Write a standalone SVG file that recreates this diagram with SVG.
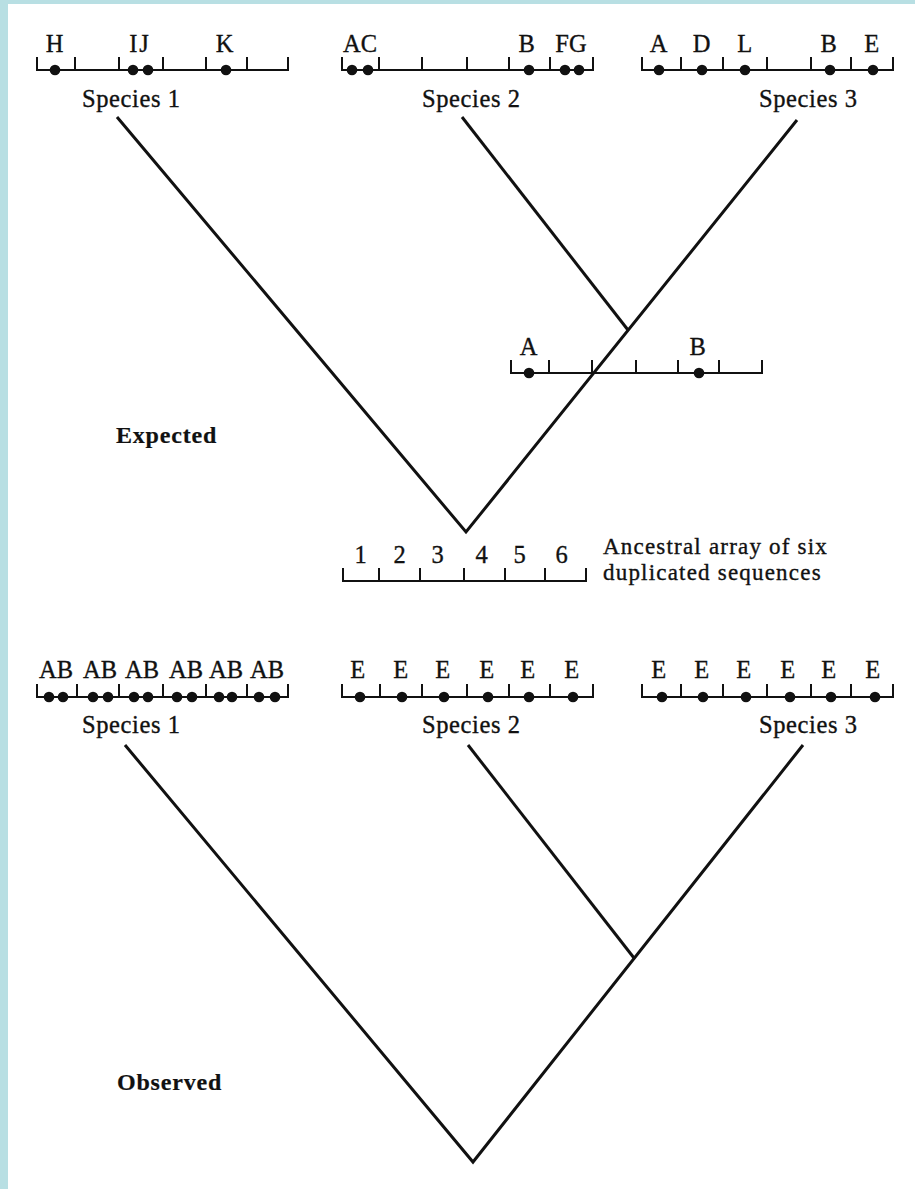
<svg xmlns="http://www.w3.org/2000/svg" width="915" height="1189" viewBox="0 0 915 1189">
<style>
.t{font-family:"Liberation Serif","Times New Roman",serif;font-size:24.5px;fill:#111;stroke:#111;stroke-width:0.35px;letter-spacing:0.6px}
.m{text-anchor:middle}
.b{font-weight:bold;font-size:24px;letter-spacing:0.8px;stroke-width:0.2px}
.anc{font-size:23px;letter-spacing:1.2px}
.arr{fill:none;stroke:#111;stroke-width:2}
.tree{fill:none;stroke:#111;stroke-width:3;stroke-linejoin:miter}
.d{fill:#111}
</style>
<rect x="0" y="0" width="915" height="1189" fill="#ffffff"/>
<rect x="0" y="0" width="915" height="4" fill="#b8dfe3"/>
<rect x="0" y="0" width="8" height="1189" fill="#b8dfe3"/>

<g id="connectors">
<polyline class="tree" points="117,117 466,532 797,120"/>
<line class="tree" x1="462" y1="117" x2="628" y2="330"/>
<polyline class="tree" points="125,745 473,1162 803,745"/>
<line class="tree" x1="468" y1="745" x2="634" y2="958"/>
</g>

<g id="exp-species1">
<path class="arr" d="M37,57V70H288V57M75,57V70M119,57V70M163,57V70M206,57V70M247,57V70"/>
<circle class="d" cx="55" cy="70" r="5.3"/><circle class="d" cx="133" cy="70" r="5.3"/><circle class="d" cx="148" cy="70" r="5.3"/><circle class="d" cx="226" cy="70" r="5.3"/>
<text class="t m" x="55" y="52">H</text><text class="t m" x="140" y="52" style="letter-spacing:2px">IJ</text><text class="t m" x="225" y="52">K</text>
<text class="t" x="82" y="107">Species 1</text>
</g>

<g id="exp-species2">
<path class="arr" d="M342,57V70H593V57M379,57V70M422,57V70M467,57V70M509,57V70M550,57V70"/>
<circle class="d" cx="352" cy="70" r="5.3"/><circle class="d" cx="368" cy="70" r="5.3"/><circle class="d" cx="529" cy="70" r="5.3"/><circle class="d" cx="565" cy="70" r="5.3"/><circle class="d" cx="579" cy="70" r="5.3"/>
<text class="t m" x="360" y="52" style="letter-spacing:0">AC</text><text class="t m" x="527" y="52">B</text><text class="t m" x="571" y="52" style="letter-spacing:0">FG</text>
<text class="t" x="422" y="107">Species 2</text>
</g>

<g id="exp-species3">
<path class="arr" d="M642,57V70H893V57M681,57V70M723,57V70M767,57V70M811,57V70M851,57V70"/>
<circle class="d" cx="659" cy="70" r="5.3"/><circle class="d" cx="702" cy="70" r="5.3"/><circle class="d" cx="745" cy="70" r="5.3"/><circle class="d" cx="830" cy="70" r="5.3"/><circle class="d" cx="873" cy="70" r="5.3"/>
<text class="t m" x="659" y="52">A</text><text class="t m" x="702" y="52">D</text><text class="t m" x="745" y="52">L</text><text class="t m" x="829" y="52">B</text><text class="t m" x="872" y="52">E</text>
<text class="t" x="759" y="107">Species 3</text>
</g>

<g id="intermediate">
<path class="arr" d="M511,360V373H762V360M549,360V373M592,360V373M636,360V373M678,360V373M719,360V373"/>
<circle class="d" cx="529" cy="373" r="5.3"/><circle class="d" cx="699" cy="373" r="5.3"/>
<text class="t m" x="529" y="355">A</text><text class="t m" x="698" y="355">B</text>
</g>

<g id="label-expected"><text class="t b" x="116" y="443">Expected</text></g>

<g id="ancestral">
<path class="arr" d="M343,568V581H586V568M379,568V581M420,568V581M464,568V581M505,568V581M545,568V581"/>
<text class="t m" x="361" y="563">1</text><text class="t m" x="400" y="563">2</text><text class="t m" x="438" y="563">3</text><text class="t m" x="482" y="563">4</text><text class="t m" x="520" y="563">5</text><text class="t m" x="562" y="563">6</text>
<text class="t anc" x="603" y="553.5">Ancestral array of six</text>
<text class="t anc" x="603" y="579.5">duplicated sequences</text>
</g>

<g id="obs-species1">
<path class="arr" d="M37,684V697H288V684M77,684V697M119,684V697M163,684V697M206,684V697M247,684V697"/>
<circle class="d" cx="49" cy="697" r="5.3"/><circle class="d" cx="63" cy="697" r="5.3"/>
<circle class="d" cx="93" cy="697" r="5.3"/><circle class="d" cx="108" cy="697" r="5.3"/>
<circle class="d" cx="134" cy="697" r="5.3"/><circle class="d" cx="148" cy="697" r="5.3"/>
<circle class="d" cx="177" cy="697" r="5.3"/><circle class="d" cx="192" cy="697" r="5.3"/>
<circle class="d" cx="219" cy="697" r="5.3"/><circle class="d" cx="232" cy="697" r="5.3"/>
<circle class="d" cx="259" cy="697" r="5.3"/><circle class="d" cx="275" cy="697" r="5.3"/>
<text class="t m" x="56" y="678" style="letter-spacing:0">AB</text><text class="t m" x="100" y="678" style="letter-spacing:0">AB</text><text class="t m" x="142" y="678" style="letter-spacing:0">AB</text><text class="t m" x="186" y="678" style="letter-spacing:0">AB</text><text class="t m" x="226" y="678" style="letter-spacing:0">AB</text><text class="t m" x="267" y="678" style="letter-spacing:0">AB</text>
<text class="t" x="82" y="733">Species 1</text>
</g>

<g id="obs-species2">
<path class="arr" d="M342,684V697H593V684M380,684V697M422,684V697M467,684V697M509,684V697M550,684V697"/>
<circle class="d" cx="360" cy="697" r="5.3"/><circle class="d" cx="402" cy="697" r="5.3"/><circle class="d" cx="444" cy="697" r="5.3"/><circle class="d" cx="488" cy="697" r="5.3"/><circle class="d" cx="529" cy="697" r="5.3"/><circle class="d" cx="573" cy="697" r="5.3"/>
<text class="t m" x="358" y="678">E</text><text class="t m" x="401" y="678">E</text><text class="t m" x="443" y="678">E</text><text class="t m" x="487" y="678">E</text><text class="t m" x="528" y="678">E</text><text class="t m" x="572" y="678">E</text>
<text class="t" x="422" y="733">Species 2</text>
</g>

<g id="obs-species3">
<path class="arr" d="M642,684V697H893V684M681,684V697M723,684V697M767,684V697M811,684V697M851,684V697"/>
<circle class="d" cx="662" cy="697" r="5.3"/><circle class="d" cx="703" cy="697" r="5.3"/><circle class="d" cx="746" cy="697" r="5.3"/><circle class="d" cx="790" cy="697" r="5.3"/><circle class="d" cx="831" cy="697" r="5.3"/><circle class="d" cx="875" cy="697" r="5.3"/>
<text class="t m" x="659" y="678">E</text><text class="t m" x="702" y="678">E</text><text class="t m" x="744" y="678">E</text><text class="t m" x="788" y="678">E</text><text class="t m" x="829" y="678">E</text><text class="t m" x="873" y="678">E</text>
<text class="t" x="759" y="733">Species 3</text>
</g>

<g id="label-observed"><text class="t b" x="117" y="1090">Observed</text></g>
</svg>
